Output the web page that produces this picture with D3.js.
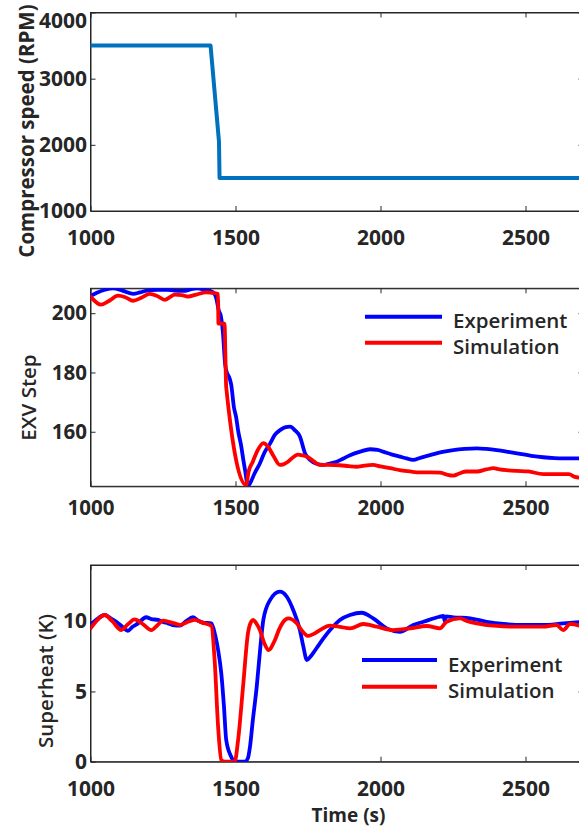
<!DOCTYPE html>
<html>
<head>
<meta charset="utf-8">
<script src="https://cdn.jsdelivr.net/npm/d3@7"></script>
<style>
  html, body { margin: 0; padding: 0; background: #fff; }
  svg { display: block; }
  text { font-family: "Open Sans", sans-serif; fill: #262626; }
</style>
</head>
<body>
<script>
// ---- Compressor speed step (RPM) ----
const compTime  = [1000, 1414, 1443, 1445, 2700];
const compSpeed = [3500, 3500, 2050, 1500, 1500];

// ---- EXV opening (steps) ----
const exvExpTime = [1000, 1020, 1050, 1079, 1110, 1148, 1170, 1194, 1230, 1263, 1290, 1320, 1345, 1366, 1395, 1423, 1435,
  1442, 1450, 1457, 1464, 1470, 1478, 1485, 1495, 1502, 1509, 1520, 1527, 1533, 1543,
  1550, 1566, 1584, 1600, 1619, 1636, 1653, 1670, 1688, 1705, 1722, 1740, 1757, 1780, 1802, 1825, 1849, 1872, 1895,
  1930, 1964, 1990, 2009, 2040, 2067, 2090, 2112, 2140, 2171, 2210, 2251, 2290, 2332, 2365, 2401, 2440, 2481, 2520,
  2561, 2600, 2630, 2700];
const exvExp = [205.8, 206.8, 207.9, 208.4, 207.6, 206.5, 207.0, 207.6, 207.9, 207.9, 207.6, 207.5, 208.0, 208.4, 207.9, 207.0, 204.5,
  201.0, 198.8, 193.0, 183.0, 180.0, 178.5, 176.0, 168.0, 165.0, 160.4, 155.0, 150.5, 147.0, 141.8,
  142.6, 146.0, 149.3, 153.0, 156.0, 159.0, 160.5, 161.5, 161.7, 160.5, 158.4, 152.7, 150.5, 149.2, 148.8, 149.3, 149.9, 151.0, 152.1,
  153.3, 154.1, 153.9, 153.3, 152.3, 151.6, 151.0, 150.5, 151.3, 152.1, 153.1, 153.8, 154.2, 154.4, 154.2, 153.8, 153.2, 152.5, 151.9,
  151.4, 151.1, 151.0, 151.0];

const exvSimTime = [1000, 1036, 1065, 1095, 1120, 1147, 1175, 1204, 1230, 1256, 1275, 1290, 1315, 1336, 1365, 1399, 1425, 1440,
  1441, 1462, 1468, 1537, 1545, 1560, 1575, 1596, 1612, 1630, 1653, 1665, 1681, 1700, 1715, 1732, 1750, 1770, 1791,
  1820, 1860, 1890, 1918, 1945, 1974, 2000, 2033, 2070, 2102, 2136, 2171, 2205, 2230, 2251, 2274, 2295, 2332, 2365,
  2390, 2410, 2440, 2470, 2510, 2561, 2610, 2650, 2670, 2700];
const exvSim = [205.6, 202.9, 204.2, 205.9, 205.4, 204.2, 205.2, 206.5, 205.8, 204.5, 205.5, 206.3, 206.1, 205.6, 206.3, 207.0, 206.8, 206.5,
  196.5, 196.5, 175.0, 142.0, 146.5, 150.0, 153.5, 156.2, 155.0, 152.0, 148.8, 149.0, 149.9, 151.5, 152.3, 152.0, 151.4, 150.0, 148.8,
  148.8, 148.7, 148.4, 148.2, 148.6, 148.8, 148.3, 147.7, 147.0, 146.6, 146.3, 146.3, 146.2, 145.5, 145.2, 146.0, 146.6, 146.6, 147.3,
  147.7, 147.3, 147.0, 146.8, 146.6, 145.7, 145.7, 145.7, 144.8, 144.4];

// ---- Evaporator superheat (K) ----
const shExpTime = [1000, 1020, 1049, 1070, 1089, 1110, 1129, 1145, 1164, 1192, 1210, 1233, 1250, 1267, 1290, 1308, 1330, 1353, 1370, 1388, 1417,
  1430, 1440, 1451, 1460, 1468, 1485, 1497, 1532, 1543, 1550, 1560, 1573, 1585, 1596, 1619, 1653, 1677, 1699, 1722, 1734, 1746,
  1763, 1791, 1826, 1860, 1895, 1935, 1975, 2021, 2067, 2113, 2148, 2200, 2217, 2222, 2226, 2251, 2309, 2366, 2424, 2493, 2561, 2630, 2700];
const shExp = [9.73, 10.1, 10.44, 10.2, 9.96, 9.6, 9.32, 9.6, 9.85, 10.28, 10.15, 10.09, 9.95, 9.85, 9.7, 9.68, 10.0, 10.28, 10.05, 9.9, 9.85,
  9.0, 7.95, 6.29, 4.0, 1.54, 0.36, 0.0, 0.0, 0.26, 1.07, 3.0, 5.3, 8.0, 10.09, 11.5, 12.1, 11.74, 10.8, 9.37, 8.19, 7.24,
  7.6, 8.43, 9.37, 10.09, 10.44, 10.6, 10.2, 9.49, 9.25, 9.73, 9.96, 10.3, 10.37, 10.0, 10.35, 10.28, 10.2, 9.96, 9.8, 9.73, 9.73, 9.85, 9.96];

const shSimTime = [1000, 1020, 1049, 1075, 1106, 1130, 1152, 1180, 1210, 1230, 1250, 1270, 1290, 1308, 1330, 1359, 1385, 1417,
  1428, 1440, 1451, 1463, 1497, 1509, 1526, 1543, 1554, 1561, 1570, 1584, 1600, 1613, 1636, 1650, 1665, 1682, 1711, 1730, 1751,
  1770, 1791, 1826, 1860, 1895, 1941, 1987, 2044, 2102, 2160, 2205, 2228, 2274, 2300, 2332, 2401, 2470, 2561, 2607, 2630, 2654, 2700];
const shSim = [9.49, 10.0, 10.44, 10.0, 9.37, 9.8, 10.13, 9.8, 9.37, 9.7, 10.04, 9.95, 9.85, 9.73, 9.9, 10.09, 9.9, 9.66,
  7.24, 2.49, 0.12, 0.0, 0.0, 1.54, 5.34, 9.14, 9.96, 10.09, 9.9, 9.37, 8.4, 7.95, 8.66, 9.4, 9.96, 10.2, 9.85, 9.3, 8.95,
  9.1, 9.37, 9.68, 9.6, 9.49, 9.8, 9.61, 9.37, 9.49, 9.66, 9.49, 9.96, 10.2, 10.0, 9.85, 9.66, 9.61, 9.61, 9.73, 9.37, 9.8, 9.61];

// ---- Axis settings ----
const timeDomain = [1000, 2700];
const timeTicks  = [1000, 1500, 2000, 2500];
const speedTicks = [1000, 2000, 3000, 4000];
const exvTicks   = [160, 180, 200];
const shTicks    = [0, 5, 10];
const seriesNames = ["Experiment", "Simulation"];

const W = 579, H = 830;
const left = 90.5, right = 583.5;
const ink = "#262626";
const cExp = "#0000ff", cSim = "#ff0000", cComp = "#0072bd";

const svg = d3.select("body").append("svg")
  .attr("width", W).attr("height", H)
  .attr("viewBox", `0 0 ${W} ${H}`);
svg.append("rect").attr("width", W).attr("height", H).attr("fill", "#fff");

const x = d3.scaleLinear().domain(timeDomain).range([left, right]);

function panel(id, top, bottom, yDomain, yTicks, opts) {
  const y = d3.scaleLinear().domain(yDomain).range([bottom, top]);
  const g = svg.append("g");

  g.append("clipPath").attr("id", id)
    .append("rect").attr("x", left).attr("y", top)
    .attr("width", right - left).attr("height", bottom - top);

  const tick = 5;
  // bottom axis with labels
  g.append("g").attr("transform", `translate(0,${bottom})`)
    .call(d3.axisBottom(x).tickValues(timeTicks).tickFormat(d3.format("d"))
      .tickSizeInner(-tick).tickSizeOuter(0).tickPadding(opts.xPad));
  // top mirrored ticks
  g.append("g").attr("transform", `translate(0,${top})`)
    .call(d3.axisTop(x).tickValues(timeTicks).tickFormat("")
      .tickSizeInner(-tick).tickSizeOuter(0));
  // left axis with labels
  const ay = g.append("g").attr("transform", `translate(${left},0)`)
    .call(d3.axisLeft(y).tickValues(yTicks).tickFormat(d3.format("d"))
      .tickSizeInner(-tick).tickSizeOuter(0).tickPadding(3.5));
  // right mirrored ticks
  g.append("g").attr("transform", `translate(${right},0)`)
    .call(d3.axisRight(y).tickValues(yTicks).tickFormat("")
      .tickSizeInner(-tick).tickSizeOuter(0));

  g.selectAll(".domain").attr("stroke", ink).attr("stroke-width", 1);
  g.selectAll(".tick line").attr("stroke", ink).attr("stroke-width", 1);
  g.selectAll(".tick text")
    .attr("font-family", "'Open Sans', sans-serif")
    .attr("font-size", opts.tickSize)
    .attr("font-weight", opts.tickWeight)
    .attr("fill", ink);

  if (opts.topLabelShift) {
    ay.selectAll(".tick").filter(d => d === yDomain[1]).select("text")
      .attr("y", opts.topLabelShift);
  }

  // frame (box on)
  g.append("rect").attr("x", left).attr("y", top)
    .attr("width", right - left).attr("height", bottom - top)
    .attr("fill", "none").attr("stroke", ink).attr("stroke-width", 1);

  // y label
  g.append("text")
    .attr("transform", `translate(${opts.labelX},${opts.labelY}) rotate(-90)`)
    .attr("text-anchor", "middle")
    .attr("dominant-baseline", "central")
    .attr("font-size", opts.labelSize)
    .attr("font-weight", opts.labelWeight)
    .attr("fill", ink)
    .text(opts.label);

  const plot = g.append("g").attr("clip-path", `url(#${id})`);
  return { y, plot, g };
}

function drawLine(p, ts, vs, color, width, curve) {
  const pts = ts.map((t, i) => [t, vs[i]]);
  p.plot.append("path")
    .datum(pts)
    .attr("fill", "none")
    .attr("stroke", color)
    .attr("stroke-width", width)
    .attr("stroke-linejoin", "round")
    .attr("stroke-linecap", "round")
    .attr("d", d3.line().x(d => x(d[0])).y(d => p.y(d[1])).curve(curve));
}

function legend(g, x0, x1, yRows, textX, size) {
  const colors = [cExp, cSim];
  seriesNames.forEach((name, i) => {
    g.append("line")
      .attr("x1", x0).attr("x2", x1)
      .attr("y1", yRows[i]).attr("y2", yRows[i])
      .attr("stroke", colors[i]).attr("stroke-width", 4);
    g.append("text")
      .attr("x", textX).attr("y", yRows[i] + 3.5)
      .attr("dominant-baseline", "central")
      .attr("font-size", size).attr("font-weight", 600)
      .attr("fill", ink)
      .text(name);
  });
}

// Panel 1: compressor speed
const p1 = panel("clip1", 12.5, 211, [1000, 4000], speedTicks, {
  tickSize: 21, tickWeight: 700, xPad: 19, label: "Compressor speed (RPM)",
  labelX: 26, labelY: 131, labelSize: 20.5, labelWeight: 700, topLabelShift: 8
});
drawLine(p1, compTime, compSpeed, cComp, 4, d3.curveLinear);

// Panel 2: EXV step
const p2 = panel("clip2", 288.3, 486.3, [141.6, 208.4], exvTicks, {
  tickSize: 20.5, tickWeight: 700, xPad: 14.5, label: "EXV Step",
  labelX: 28, labelY: 397.5, labelSize: 20.5, labelWeight: 600
});
drawLine(p2, exvExpTime, exvExp, cExp, 3.8, d3.curveMonotoneX);
drawLine(p2, exvSimTime, exvSim, cSim, 3.8, d3.curveMonotoneX);
legend(p2.g, 365, 442, [316.7, 342.7], 453, 20.5);

// Panel 3: superheat
const p3 = panel("clip3", 565, 761.7, [0, 14], shTicks, {
  tickSize: 21, tickWeight: 700, xPad: 19, label: "Superheat (K)",
  labelX: 45, labelY: 681, labelSize: 20.5, labelWeight: 600
});
drawLine(p3, shExpTime, shExp, cExp, 3.8, d3.curveMonotoneX);
drawLine(p3, shSimTime, shSim, cSim, 3.8, d3.curveMonotoneX);
legend(p3.g, 362, 437, [660, 686.7], 448, 20.5);

// shared x label
svg.append("text")
  .attr("x", 348.5).attr("y", 822)
  .attr("text-anchor", "middle")
  .attr("font-size", 19).attr("font-weight", 700)
  .attr("fill", ink)
  .text("Time (s)");
</script>
</body>
</html>
